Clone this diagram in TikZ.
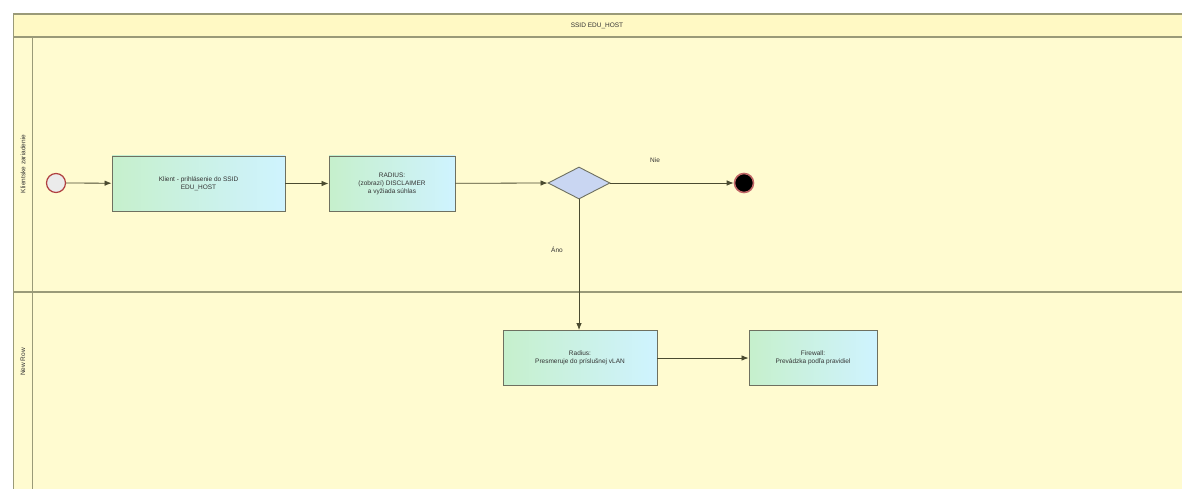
\documentclass[tikz,border=0pt]{standalone}
\usepackage{fontspec}
\setmainfont{Liberation Sans}
\usetikzlibrary{shapes.geometric,arrows.meta}
\definecolor{poolbg}{HTML}{FFFBD0}
\definecolor{headbg}{HTML}{FFF9C4}
\definecolor{poolline}{HTML}{9A9A78}
\definecolor{taskline}{HTML}{6E7060}
\definecolor{taskA}{HTML}{C6F0CC}
\definecolor{taskB}{HTML}{CFF3FF}
\definecolor{gatefill}{HTML}{C9D6F2}
\definecolor{evred}{HTML}{B04040}
\definecolor{flow}{HTML}{4A4A30}
\tikzset{
  x=1pt, y=-1pt,
  task/.style={draw=taskline, line width=0.9pt, left color=taskA, right color=taskB,
    minimum height=55pt, align=center, font=\fontsize{6.5}{8}\selectfont, text=black!80},
  gate/.style={diamond, draw=taskline, line width=0.9pt, fill=gatefill, minimum width=62pt,
    minimum height=32pt, inner sep=0pt, aspect=2},
  startev/.style={circle, draw=evred, line width=1.2pt, fill=black!8, minimum size=19pt, inner sep=0pt},
  endev/.style={circle, draw=evred!80, line width=1.6pt, fill=black, minimum size=19pt, inner sep=0pt},
  flowline/.style={draw=flow, line width=0.8pt, -{Latex[length=7pt,width=5.5pt]}},
  lbl/.style={font=\fontsize{6.5}{8}\selectfont, text=black!80},
  lane/.style={draw=poolline, line width=0.8pt}
}
\begin{document}
\begin{tikzpicture}
\useasboundingbox (0,0) rectangle (1182,489);
\fill[white] (0,0) rectangle (1182,489);
% pool
\fill[poolbg] (13,14) rectangle (1182,489);
\fill[headbg] (13,14) rectangle (1182,37);
\draw[lane, line width=1.4pt] (13,14) -- (1182,14);
\draw[lane, line width=1.2pt] (13,37) -- (1182,37);
\draw[lane] (13,14) -- (13,489);
\draw[lane] (32,37) -- (32,489);
\draw[lane, line width=1.1pt] (13,292) -- (1182,292);
\node[lbl] (pooltitle) at (597,26) {SSID EDU\_HOST};
\node[lbl, rotate=90] (lane1) at (23,164) {Klientske zariadenie};
\node[lbl, rotate=90] (lane2) at (23,362) {New Row};
% nodes
\node[startev] (start) at (56,183) {};
\node[task, minimum width=173pt] (t1) at (198.5,183.5) {Klient - prihlásenie do SSID\\EDU\_HOST};
\node[task, minimum width=126pt] (t2) at (392,183.5) {RADIUS:\\(zobrazí) DISCLAIMER\\a vyžiada súhlas};
\node[gate] (g) at (579,183) {};
\node[endev] (end) at (744,183) {};
\node[task, minimum width=154pt] (t3) at (580,358) {Radius:\\Presmeruje do príslušnej vLAN};
\node[task, minimum width=128pt] (t4) at (813,358) {Firewall:\\Prevádzka podľa pravidiel};
% flows
\draw[flowline] (start) -- (t1);
\draw[flowline] (t1) -- (t2);
\draw[flowline] (t2) -- (g.west);
\draw[flowline] (g.east) -- (end);
\draw[flowline] (g.south) -- (g.south |- t3.north);
\draw[flowline] (t3) -- (t4);
\node[lbl] (nie) at (655,160) {Nie};
\node[lbl] (ano) at (557,250) {Áno};
\end{tikzpicture}
\end{document}
